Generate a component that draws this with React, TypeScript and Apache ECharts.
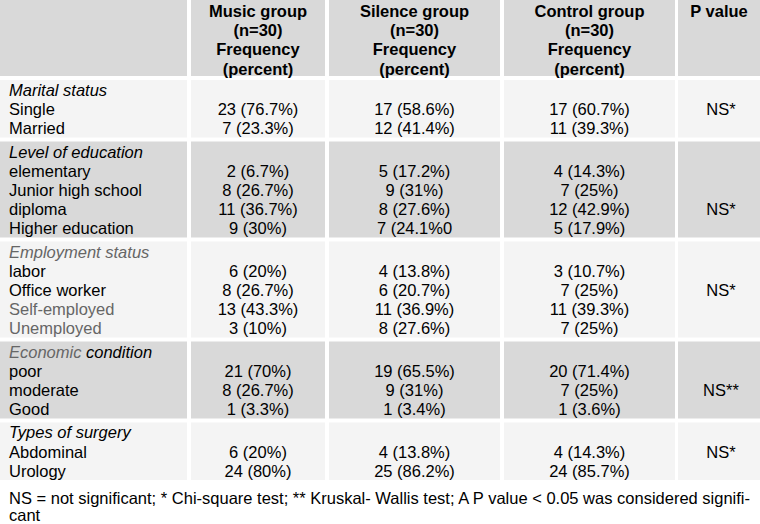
import React, { useEffect, useRef } from "react";
import * as echarts from "echarts";

const headerColumns = [
  [],
  ["Music group", "(n=30)", "Frequency", "(percent)"],
  ["Silence group", "(n=30)", "Frequency", "(percent)"],
  ["Control group", "(n=30)", "Frequency", "(percent)"],
  ["P value"],
];

const sectionTitles = [
  "Marital status",
  "Level of education",
  "Employment status",
  "Economic condition",
  "Types of surgery",
];

const categories = [
  ["Single", "Married"],
  ["elementary", "Junior high school", "diploma", "Higher education"],
  ["labor", "Office worker", "Self-employed", "Unemployed"],
  ["poor", "moderate", "Good"],
  ["Abdominal", "Urology"],
];

const musicValues = [
  ["23 (76.7%)", "7 (23.3%)"],
  ["2 (6.7%)", "8 (26.7%)", "11 (36.7%)", "9 (30%)"],
  ["6 (20%)", "8 (26.7%)", "13 (43.3%)", "3 (10%)"],
  ["21 (70%)", "8 (26.7%)", "1 (3.3%)"],
  ["6 (20%)", "24 (80%)"],
];

const silenceValues = [
  ["17 (58.6%)", "12 (41.4%)"],
  ["5 (17.2%)", "9 (31%)", "8 (27.6%)", "7 (24.1%0"],
  ["4 (13.8%)", "6 (20.7%)", "11 (36.9%)", "8 (27.6%)"],
  ["19 (65.5%)", "9 (31%)", "1 (3.4%)"],
  ["4 (13.8%)", "25 (86.2%)"],
];

const controlValues = [
  ["17 (60.7%)", "11 (39.3%)"],
  ["4 (14.3%)", "7 (25%)", "12 (42.9%)", "5 (17.9%)"],
  ["3 (10.7%)", "7 (25%)", "11 (39.3%)", "7 (25%)"],
  ["20 (71.4%)", "7 (25%)", "1 (3.6%)"],
  ["4 (14.3%)", "24 (85.7%)"],
];

const pValues = ["NS*", "NS*", "NS*", "NS**", "NS*"];
// which line of each section holds the p value (0 = section title line)
const pValueLine = [1, 3, 2, 2, 1];

const footnoteLines = [
  "NS = not significant; * Chi-square test; ** Kruskal- Wallis test; A P value < 0.05 was considered signifi-",
  "cant",
];

// ---- layout / style ----
const W = 760;
const H = 524;
const FONT = "Liberation Sans, Arial, Helvetica, sans-serif";
const FS = 16.5;
const LH = 19.2;
const colX = [0, 191, 329, 504, 678];
const colW = [187, 134, 171, 171, 82];
const HEADER_H = 76;
const GAP = 4;
const DARK = "#d9d9d9";
const LIGHT = "#f4f4f4";
const GRAY_TEXT = "#666666";
const grayLabels = new Set(["Employment status", "Self-employed", "Unemployed"]);

function buildGraphics() {
  const els: any[] = [];
  // header
  for (let c = 0; c < colX.length; c++) {
    els.push({
      type: "rect",
      shape: { x: colX[c], y: 0, width: colW[c], height: HEADER_H },
      style: { fill: DARK },
    });
    headerColumns[c].forEach((line, i) => {
      els.push({
        type: "text",
        style: {
          text: line,
          x: colX[c] + colW[c] / 2,
          y: 11 + i * LH,
          textAlign: "center",
          textVerticalAlign: "middle",
          font: `bold ${FS}px ${FONT}`,
          fill: "#000",
        },
      });
    });
  }
  let top = HEADER_H + GAP;
  sectionTitles.forEach((title, s) => {
    const nLines = categories[s].length + 1;
    const h = nLines * LH;
    const fill = s % 2 === 0 ? LIGHT : DARK;
    for (let c = 0; c < colX.length; c++) {
      els.push({
        type: "rect",
        shape: { x: colX[c], y: top, width: colW[c], height: h },
        style: { fill },
      });
    }
    const lineY = (i: number) => top + 10 + i * LH;
    if (title === "Economic condition") {
      els.push({
        type: "text",
        style: {
          text: "{g|Economic} {b|condition}",
          x: 9,
          y: lineY(0),
          textVerticalAlign: "middle",
          font: `italic ${FS}px ${FONT}`,
          rich: {
            g: { fill: GRAY_TEXT, font: `italic ${FS}px ${FONT}` },
            b: { fill: "#000", font: `italic ${FS}px ${FONT}` },
          },
        },
      });
    } else {
      els.push({
        type: "text",
        style: {
          text: title,
          x: 9,
          y: lineY(0),
          textVerticalAlign: "middle",
          font: `italic ${FS}px ${FONT}`,
          fill: grayLabels.has(title) ? GRAY_TEXT : "#000",
        },
      });
    }
    categories[s].forEach((cat, i) => {
      els.push({
        type: "text",
        style: {
          text: cat,
          x: 9,
          y: lineY(i + 1),
          textVerticalAlign: "middle",
          font: `${FS}px ${FONT}`,
          fill: grayLabels.has(cat) ? GRAY_TEXT : "#000",
        },
      });
      [musicValues, silenceValues, controlValues].forEach((vals, k) => {
        const c = k + 1;
        els.push({
          type: "text",
          style: {
            text: vals[s][i],
            x: colX[c] + colW[c] / 2,
            y: lineY(i + 1),
            textAlign: "center",
            textVerticalAlign: "middle",
            font: `${FS}px ${FONT}`,
            fill: "#000",
          },
        });
      });
    });
    els.push({
      type: "text",
      style: {
        text: pValues[s],
        x: colX[4] + colW[4] / 2 + 2,
        y: lineY(pValueLine[s]),
        textAlign: "center",
        textVerticalAlign: "middle",
        font: `${FS}px ${FONT}`,
        fill: "#000",
      },
    });
    top += h + GAP;
  });
  footnoteLines.forEach((line, i) => {
    els.push({
      type: "text",
      style: {
        text: line,
        x: 9,
        y: 498 + i * 17,
        textVerticalAlign: "middle",
        font: `${FS}px ${FONT}`,
        fill: "#000",
      },
    });
  });
  return els;
}

export default function App() {
  const ref = useRef<HTMLDivElement>(null);
  useEffect(() => {
    document.body.style.margin = "0";
    const chart = echarts.init(ref.current!, null, { renderer: "svg" });
    chart.setOption({
      animation: false,
      backgroundColor: "#ffffff",
      graphic: { elements: buildGraphics() },
    });
    return () => chart.dispose();
  }, []);
  return <div ref={ref} style={{ width: W, height: H }} />;
}
